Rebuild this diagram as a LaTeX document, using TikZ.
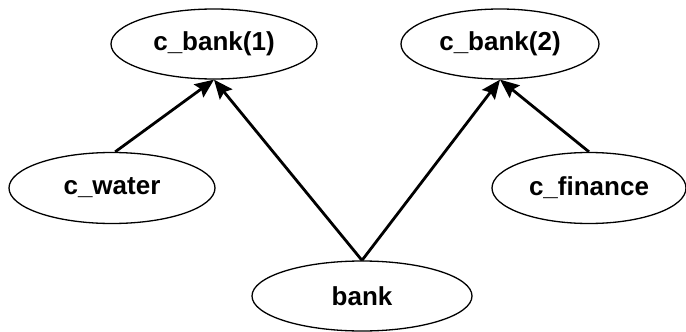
\documentclass[tikz,border=0pt]{standalone}
\usepackage{fontspec}
\setmainfont{Liberation Sans}
\usetikzlibrary{shapes.geometric,arrows.meta}
\begin{document}
\begin{tikzpicture}[x=1pt,y=-1pt,
  concept/.style={draw,ellipse,line width=1.3pt,inner sep=0pt,
    font=\fontsize{26}{30}\selectfont\bfseries},
  link/.style={line width=2.8pt,-{Stealth[length=19pt,width=16pt,inset=3pt]}}]
  \useasboundingbox (0,0) rectangle (686,332);
  \node[concept,minimum width=206pt,minimum height=70pt] (cb1) at (214,44) {c\_bank(1)};
  \node[concept,minimum width=198pt,minimum height=70pt] (cb2) at (500,44) {c\_bank(2)};
  \node[concept,minimum width=206pt,minimum height=71pt] (water) at (112,188) {c\_water};
  \node[concept,minimum width=194pt,minimum height=71pt] (finance) at (589,188) {c\_finance};
  \node[concept,minimum width=220pt,minimum height=70pt] (bank) at (362,296) {bank};
  \draw[link] (water.85) -- (cb1.south);
  \draw[link] (bank.north) -- (cb1.south);
  \draw[link] (bank.north) -- (cb2.south);
  \draw[link] (finance.north) -- (cb2.south);
\end{tikzpicture}
\end{document}
